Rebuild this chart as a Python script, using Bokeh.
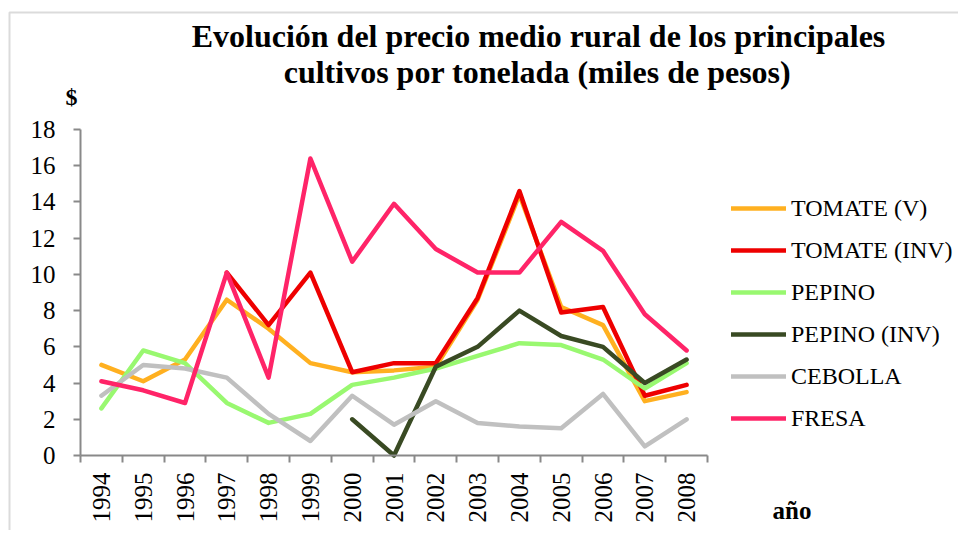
import math
from bokeh.plotting import figure
from bokeh.models import (Range1d, FixedTicker, Legend, LegendItem, Label, BoxAnnotation)
from bokeh.embed import file_html
from bokeh.resources import INLINE

years = [1994, 1995, 1996, 1997, 1998, 1999, 2000, 2001, 2002, 2003, 2004, 2005, 2006, 2007, 2008]
nan = float("nan")
tomate_v = [5.0, 4.1, 5.3, 8.6, 7.0, 5.1, 4.6, 4.7, 4.9, 8.6, 14.4, 8.2, 7.2, 3.0, 3.5]
tomate_inv = [nan, nan, nan, 10.1, 7.2, 10.1, 4.6, 5.1, 5.1, 8.7, 14.6, 7.9, 8.2, 3.3, 3.9]
pepino = [2.6, 5.8, 5.1, 2.9, 1.8, 2.3, 3.9, 4.3, 4.8, 5.5, 6.2, 6.1, 5.3, 3.7, 5.1]
pepino_inv = [nan, nan, nan, nan, nan, nan, 2.0, 0.0, 4.9, 6.0, 8.0, 6.6, 6.0, 4.0, 5.3]
cebolla = [3.3, 5.0, 4.8, 4.3, 2.3, 0.8, 3.3, 1.7, 3.0, 1.8, 1.6, 1.5, 3.4, 0.5, 2.0]
fresa = [4.1, 3.6, 2.9, 10.1, 4.3, 16.4, 10.7, 13.9, 11.4, 10.1, 10.1, 12.9, 11.3, 7.8, 5.8]

series_names = ["TOMATE (V)", "TOMATE (INV)", "PEPINO", "PEPINO (INV)", "CEBOLLA", "FRESA"]
series_values = [tomate_v, tomate_inv, pepino, pepino_inv, cebolla, fresa]
series_colors = ["#FFB020", "#EE0000", "#99F870", "#394A23", "#C0C0C0", "#FF2468"]

title_lines = ["Evolución del precio medio rural de los principales",
               "cultivos por tonelada (miles de pesos)"]
y_label = "$"
x_label = "año"
y_ticks = [0, 2, 4, 6, 8, 10, 12, 14, 16, 18]
y_min, y_max = 0, 18

SERIF = "Liberation Serif"
AXIS_GRAY = "#898989"

W, H = 958, 530
# plot box (canvas px): left 80, right 707, top 129, bottom 455
BL, BR, BT, BB = 80, 707, 129, 455
X0, X1 = years[0] - 0.5, years[-1] + 0.5
px_per_x = (BR - BL) / (X1 - X0)
px_per_y = (BB - BT) / (y_max - y_min)
x_range = Range1d(X0 - BL / px_per_x, X1 + (W - BR) / px_per_x)
y_range = Range1d(y_min - (H - BB) / px_per_y, y_max + BT / px_per_y)

p = figure(width=W, height=H, output_backend="svg", toolbar_location=None,
           x_range=x_range, y_range=y_range, min_border=0,
           x_axis_location="below", y_axis_location="left")
p.outline_line_color = None
p.xgrid.visible = False
p.ygrid.visible = False
p.background_fill_color = "white"
p.border_fill_color = "white"

# x axis: labels at category centres, ticks at category boundaries
xa = p.xaxis[0]
xa.fixed_location = y_min
xa.bounds = (X0, X1)
xa.ticker = FixedTicker(ticks=years, minor_ticks=[y - 0.5 for y in years] + [years[-1] + 0.5])
xa.major_tick_out = 0
xa.major_tick_in = 0
xa.minor_tick_out = 7
xa.minor_tick_in = 0
xa.minor_tick_line_color = AXIS_GRAY
xa.minor_tick_line_width = 2
xa.axis_line_color = AXIS_GRAY
xa.axis_line_width = 2
xa.major_label_orientation = math.pi / 2
xa.major_label_standoff = 10
xa.major_label_text_font = SERIF
xa.major_label_text_font_size = "25px"
xa.major_label_text_color = "black"

ya = p.yaxis[0]
ya.fixed_location = X0
ya.bounds = (y_min, y_max)
ya.ticker = FixedTicker(ticks=y_ticks)
ya.major_tick_out = 7
ya.major_tick_in = 0
ya.minor_tick_out = 0
ya.minor_tick_in = 0
ya.major_tick_line_color = AXIS_GRAY
ya.major_tick_line_width = 2
ya.axis_line_color = AXIS_GRAY
ya.axis_line_width = 2
ya.major_label_standoff = 18
ya.major_label_text_font = SERIF
ya.major_label_text_font_size = "25px"
ya.major_label_text_color = "black"

items = []
for name, vals, col in zip(series_names, series_values, series_colors):
    r = p.line(years, vals, line_color=col, line_width=4.5, line_cap="round", line_join="round")
    items.append(LegendItem(label=name, renderers=[r]))

# legend: rows centred at ~207 ... ~419 (canvas px)
legend = Legend(items=items, location=(731, H - 433),
                glyph_width=55, glyph_height=30, label_height=30, spacing=12,
                label_standoff=5, padding=0, margin=0,
                label_text_font=SERIF, label_text_font_size="24px", label_text_color="black",
                border_line_color=None, background_fill_alpha=0)
p.add_layout(legend)

# outer chart border
p.add_layout(BoxAnnotation(left=9, right=2000, top=12, bottom=2000,
                           left_units="canvas", right_units="canvas",
                           top_units="canvas", bottom_units="canvas",
                           fill_alpha=0, line_color=AXIS_GRAY, line_width=2))

p.add_layout(Label(x=538, y=35, x_units="canvas", y_units="canvas", text=title_lines[0],
                   text_align="center", text_baseline="alphabetic", text_color="black",
                   text_font=SERIF, text_font_style="bold", text_font_size="32px"))
p.add_layout(Label(x=537, y=71.5, x_units="canvas", y_units="canvas", text=title_lines[1],
                   text_align="center", text_baseline="alphabetic", text_color="black",
                   text_font=SERIF, text_font_style="bold", text_font_size="32px"))
p.add_layout(Label(x=71, y=96, x_units="canvas", y_units="canvas", text=y_label,
                   text_align="center", text_baseline="alphabetic", text_color="black",
                   text_font=SERIF, text_font_style="bold", text_font_size="24px"))
p.add_layout(Label(x=772, y=510, x_units="canvas", y_units="canvas", text=x_label,
                   text_align="left", text_baseline="alphabetic", text_color="black",
                   text_font=SERIF, text_font_style="bold", text_font_size="25px"))

open("out.html", "w").write(file_html(p, INLINE))
